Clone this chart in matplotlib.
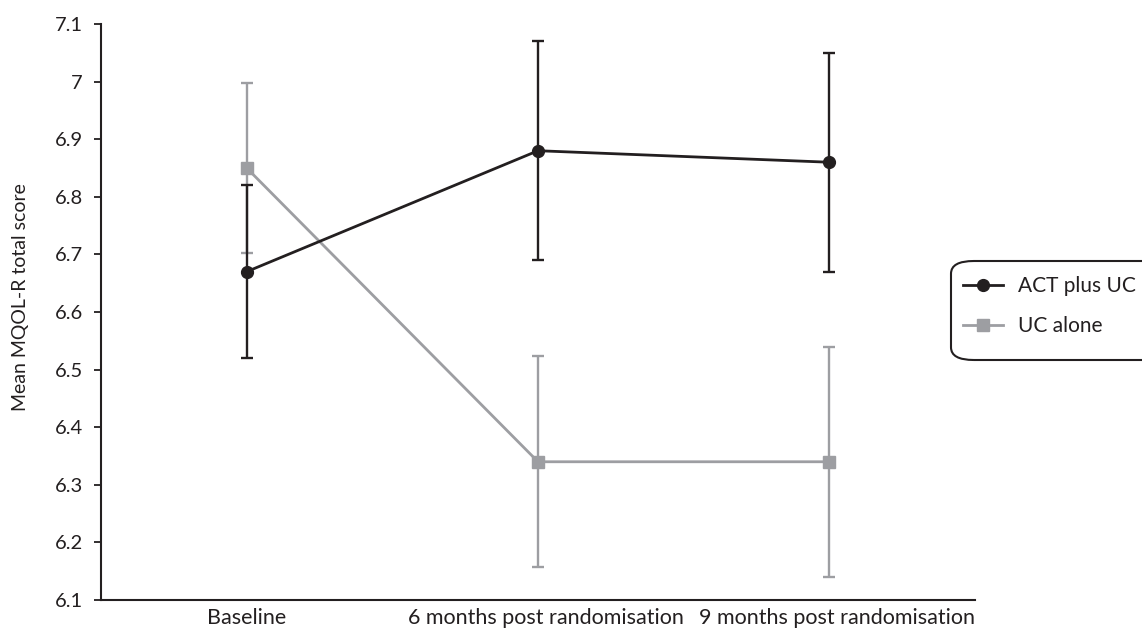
import numpy as np
import matplotlib
matplotlib.use("Agg")
import matplotlib.pyplot as plt
import matplotlib.transforms as mtransforms
from matplotlib.patches import FancyBboxPatch
from matplotlib.lines import Line2D

plt.rcParams['font.family'] = ['Lato', 'DejaVu Sans']

# data
categories = ["Baseline", "6 months post randomisation", "9 months post randomisation"]
act_mean = [6.67, 6.88, 6.86]
act_err = [0.15, 0.19, 0.19]
uc_mean = [6.85, 6.34, 6.34]
uc_err = [0.147, 0.183, 0.20]
series_names = ["ACT plus UC", "UC alone"]
yticks = [6.1, 6.2, 6.3, 6.4, 6.5, 6.6, 6.7, 6.8, 6.9, 7.0, 7.1]
ytick_labels = ["6.1", "6.2", "6.3", "6.4", "6.5", "6.6", "6.7", "6.8", "6.9", "7", "7.1"]

dark = '#231f20'
grey = '#9d9ea2'

W, H = 1142, 632
fig = plt.figure(figsize=(W / 100, H / 100), dpi=100)
ax = fig.add_axes([101 / W, 32 / H, (975 - 101) / W, (600 - 24) / H])

x = np.arange(len(categories))

# UC drawn first (behind)
ax.errorbar(x, uc_mean, yerr=uc_err, color=grey, ecolor=grey, elinewidth=1.7, capsize=4.5,
            capthick=1.7, lw=2.0, marker='s', ms=8.5, mfc=grey, mec=grey, zorder=2)
ax.errorbar(x, act_mean, yerr=act_err, color=dark, ecolor=dark, elinewidth=1.7, capsize=4.5,
            capthick=1.7, lw=2.0, marker='o', ms=8.5, mfc=dark, mec=dark, zorder=3)

ax.set_xlim(-0.5, 2.5)
ax.set_ylim(6.1, 7.1)
ax.set_yticks(yticks)
ax.set_yticklabels(ytick_labels)
ax.set_xticks(x)
ax.set_xticklabels(categories)

for s in ['top', 'right']:
    ax.spines[s].set_visible(False)
for s in ['left', 'bottom']:
    ax.spines[s].set_color(dark)
    ax.spines[s].set_linewidth(1.5)

ax.tick_params(axis='y', direction='out', length=5, width=1.3, color=dark,
               labelsize=14.5, labelcolor=dark, pad=8)
ax.tick_params(axis='x', length=0, labelsize=15.5, labelcolor=dark, pad=6)

# long category labels sit a little right of their points
labs = ax.get_xticklabels()
for lab in labs[1:]:
    lab.set_transform(lab.get_transform() + mtransforms.ScaledTranslation(8 / 100, 0, fig.dpi_scale_trans))

ax.set_ylabel("Mean MQOL-R total score", fontsize=14, color=dark)
ax.yaxis.set_label_coords(-0.082, 0.526)

# legend with rounded box running off the right edge
handles = [Line2D([], [], color=dark, lw=2.0, marker='o', ms=8.5, mfc=dark, mec=dark),
           Line2D([], [], color=grey, lw=2.0, marker='s', ms=8.5, mfc=grey, mec=grey)]
fig.legend(handles, series_names, loc='upper left', bbox_to_anchor=(963 / W, 1 - 276 / H),
           frameon=False, fontsize=15, handlelength=1.9, handletextpad=0.72,
           labelspacing=0.95, borderpad=0, borderaxespad=0, labelcolor=dark)
box = FancyBboxPatch((951 / W, 1 - 360 / H), 220 / W, 99 / H,
                     boxstyle='round,pad=0,rounding_size=0.02', transform=fig.transFigure,
                     fc='none', ec=dark, lw=1.5, clip_on=False)
fig.patches.append(box)

fig.savefig("out.png", dpi=100)
